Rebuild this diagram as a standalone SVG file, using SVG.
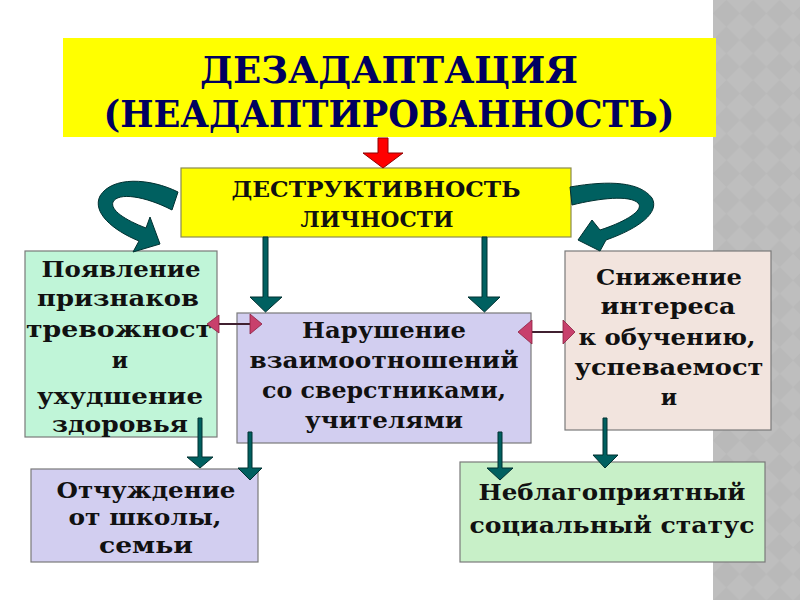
<svg xmlns="http://www.w3.org/2000/svg" width="800" height="600" viewBox="0 0 800 600">
<defs>
<style>
.t{font-family:"DejaVu Serif","Liberation Serif",serif;font-weight:bold;text-anchor:middle;fill:#111;}
.title{font-size:37px;fill:#000060;}
.h{font-size:22px;fill:#111;}
.b{font-size:22px;}
.box{stroke:#7a7a7a;stroke-width:1.2;}
.teal{fill:#006060;stroke:#003030;stroke-width:1;}
.pink{fill:#c8406c;stroke:#8a2040;stroke-width:0.8;}
</style>
<pattern id="dia" width="26.7" height="26.7" patternUnits="userSpaceOnUse" x="713" y="0">
<rect width="26.7" height="26.7" fill="#bebebe"/>
<polygon points="13.35,0 26.7,13.35 13.35,26.7 0,13.35" fill="#b9b9b9"/>
</pattern>
</defs>
<rect width="800" height="600" fill="#ffffff"/>
<rect x="713" y="0" width="87" height="600" fill="url(#dia)"/>

<g id="title">
<rect x="63" y="38" width="653" height="99" fill="#ffff00"/>
<text class="t title" x="389" y="83" textLength="378" lengthAdjust="spacingAndGlyphs">ДЕЗАДАПТАЦИЯ</text>
<text class="t title" x="389" y="127" textLength="571" lengthAdjust="spacingAndGlyphs">(НЕАДАПТИРОВАННОСТЬ)</text>
</g>

<g id="destr">
<rect x="181" y="168" width="390" height="69" fill="#ffff00" stroke="#8a8a50" stroke-width="1.2"/>
<text class="t h" x="376" y="197" textLength="289" lengthAdjust="spacingAndGlyphs">ДЕСТРУКТИВНОСТЬ</text>
<text class="t h" x="377" y="227" textLength="153" lengthAdjust="spacingAndGlyphs">ЛИЧНОСТИ</text>
</g>

<g id="anxiety">
<rect class="box" x="25" y="251" width="192" height="186" fill="#c0f5d8"/>
<text class="t b" x="121" y="277" textLength="159" lengthAdjust="spacingAndGlyphs">Появление</text>
<text class="t b" x="118" y="306" textLength="162" lengthAdjust="spacingAndGlyphs">признаков</text>
<text class="t b" x="119" y="337" textLength="186" lengthAdjust="spacingAndGlyphs">тревожност</text>
<text class="t b" x="120" y="368">и</text>
<text class="t b" x="120" y="404" textLength="166" lengthAdjust="spacingAndGlyphs">ухудшение</text>
<text class="t b" x="120" y="432" textLength="136" lengthAdjust="spacingAndGlyphs">здоровья</text>
</g>

<g id="relations">
<rect class="box" x="237" y="313" width="294" height="130" fill="#d2cef0"/>
<text class="t b" x="384" y="338" textLength="164" lengthAdjust="spacingAndGlyphs">Нарушение</text>
<text class="t b" x="384" y="368" textLength="269" lengthAdjust="spacingAndGlyphs">взаимоотношений</text>
<text class="t b" x="384" y="398" textLength="244" lengthAdjust="spacingAndGlyphs">со сверстниками,</text>
<text class="t b" x="384" y="428" textLength="158" lengthAdjust="spacingAndGlyphs">учителями</text>
</g>

<g id="interest">
<rect class="box" x="565" y="251" width="206" height="179" fill="#f2e4de"/>
<text class="t b" x="669" y="285" textLength="146" lengthAdjust="spacingAndGlyphs">Снижение</text>
<text class="t b" x="668" y="314" textLength="135" lengthAdjust="spacingAndGlyphs">интереса</text>
<text class="t b" x="667" y="345" textLength="177" lengthAdjust="spacingAndGlyphs">к обучению,</text>
<text class="t b" x="669" y="375" textLength="189" lengthAdjust="spacingAndGlyphs">успеваемост</text>
<text class="t b" x="669" y="405">и</text>
</g>

<g id="alienation">
<rect class="box" x="31" y="469" width="227" height="93" fill="#d2cef0"/>
<text class="t b" x="146" y="498" textLength="179" lengthAdjust="spacingAndGlyphs">Отчуждение</text>
<text class="t b" x="145" y="525" textLength="153" lengthAdjust="spacingAndGlyphs">от школы,</text>
<text class="t b" x="146" y="553" textLength="94" lengthAdjust="spacingAndGlyphs">семьи</text>
</g>

<g id="status">
<rect class="box" x="460" y="462" width="305" height="100" fill="#c8f0c8"/>
<text class="t b" x="612" y="500" textLength="267" lengthAdjust="spacingAndGlyphs">Неблагоприятный</text>
<text class="t b" x="612" y="533" textLength="285" lengthAdjust="spacingAndGlyphs">социальный статус</text>
</g>

<g id="connectors">
<polygon points="378,138 388,138 388,153 403,153 383,168 363,153 378,153" fill="#ff0000" stroke="#900000" stroke-width="1"/>
<path class="teal" d="M178,192 C150,178 112,176 100,196 C92,212 112,230 139,241 L133,252 L160,244 L150,217 L146,228 C125,220 110,210 113,202 C118,192 145,196 172,210 Z"/>
<path class="teal" d="M570,187 C610,180 640,182 652,198 C660,212 640,228 606,240 L600,251 L578,240 L592,220 L600,230 C625,222 645,210 638,203 C630,195 600,198 572,205 Z"/>
<polygon class="teal" points="263,237 268,237 268,297 282,297 265.5,312 250,297 263,297"/>
<polygon class="teal" points="482,237 487,237 487,297 500,297 484.5,312 468,297 482,297"/>
<polygon class="teal" points="198,418 202,418 202,457 213,457 200,468 187,457 198,457"/>
<polygon class="teal" points="248,432 252,432 252,468 262,468 250,480 238,468 248,468"/>
<polygon class="teal" points="498,432 502,432 502,468 513,468 500,480 487,468 498,468"/>
<polygon class="teal" points="603,418 607,418 607,455 618,455 605,468 593,455 603,455"/>
<line x1="218" y1="324" x2="250" y2="324" stroke="#402030" stroke-width="2"/>
<polygon class="pink" points="207,324 219,315 219,333"/>
<polygon class="pink" points="262,324 250,314 250,334"/>
<line x1="531" y1="332" x2="564" y2="332" stroke="#402030" stroke-width="2"/>
<polygon class="pink" points="518,332 532,320 532,344"/>
<polygon class="pink" points="575,332 563,320 563,344"/>
</g>
</svg>
